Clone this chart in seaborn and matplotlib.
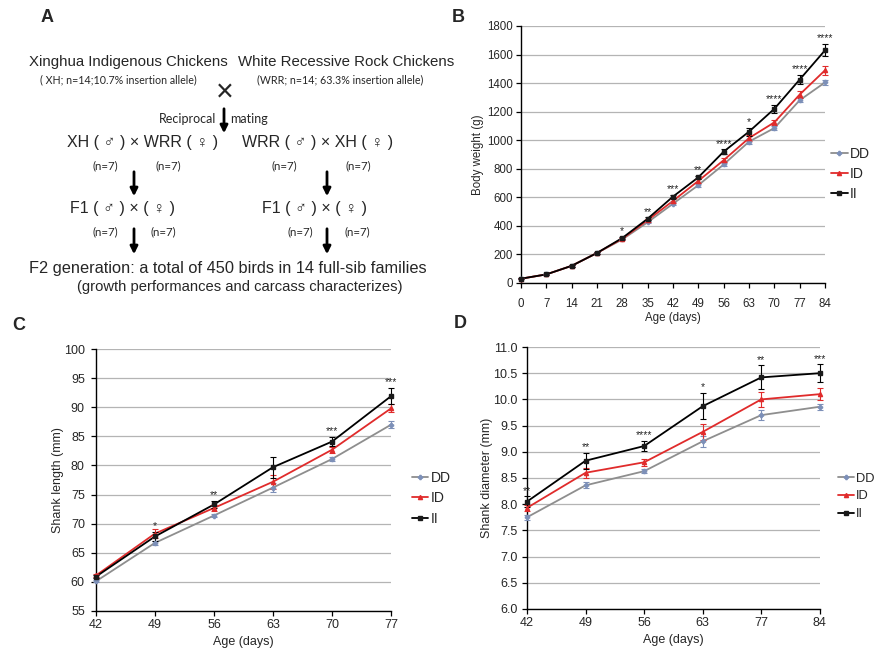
import numpy as np
import pandas as pd
import matplotlib
matplotlib.use("Agg")
import matplotlib.pyplot as plt
from matplotlib.lines import Line2D
import seaborn as sns

# ---- data ----
genotypes = ["DD", "ID", "II"]

# B: body weight (g)
b_age = [0, 7, 14, 21, 28, 35, 42, 49, 56, 63, 70, 77, 84]
b_dd = [30, 60, 120, 210, 305, 425, 555, 685, 830, 990, 1085, 1280, 1405]
b_id = [30, 60, 120, 210, 310, 440, 575, 715, 860, 1015, 1125, 1320, 1490]
b_ii = [30, 60, 120, 210, 315, 450, 605, 740, 920, 1060, 1220, 1425, 1630]
b_dd_err = [3, 4, 5, 6, 6, 8, 10, 10, 10, 15, 15, 15, 15]
b_id_err = [3, 4, 5, 6, 8, 10, 12, 12, 15, 20, 20, 25, 30]
b_ii_err = [3, 4, 5, 6, 8, 10, 12, 12, 15, 28, 28, 30, 42]
b_stars = ["", "", "", "", "*", "**", "***", "**", "****", "*", "****", "****", "****"]

# C: shank length (mm)
c_age = [42, 49, 56, 63, 70, 77]
c_dd = [60.1, 66.7, 71.4, 76.2, 81.1, 87.0]
c_id = [61.1, 68.3, 72.7, 77.2, 82.7, 89.8]
c_ii = [60.9, 67.8, 73.3, 79.7, 84.1, 91.9]
c_dd_err = [0.2, 0.4, 0.3, 0.8, 0.3, 0.6]
c_id_err = [0.3, 0.7, 0.5, 1.2, 0.5, 0.7]
c_ii_err = [0.3, 0.8, 0.6, 1.8, 0.8, 1.4]
c_stars = ["", "*", "**", "", "***", "***"]

# D: shank diameter (mm), ages shown as categories
d_age = ["42", "49", "56", "63", "77", "84"]
d_dd = [7.75, 8.36, 8.63, 9.20, 9.70, 9.86]
d_id = [7.93, 8.60, 8.80, 9.38, 10.00, 10.10]
d_ii = [8.05, 8.83, 9.11, 9.87, 10.42, 10.50]
d_dd_err = [0.05, 0.06, 0.04, 0.10, 0.10, 0.06]
d_id_err = [0.06, 0.10, 0.07, 0.15, 0.15, 0.12]
d_ii_err = [0.10, 0.15, 0.10, 0.25, 0.23, 0.17]
d_stars = ["**", "**", "****", "*", "**", "***"]

sns.set_style("white")
plt.rcParams["font.family"] = ["Liberation Sans", "DejaVu Sans"]

line_col = {"DD": "#8e8e8e", "ID": "#e02b2b", "II": "#000000"}
mark_col = {"DD": "#7d90b8", "ID": "#e02b2b", "II": "#1a1a1a"}
mark = {"DD": "P", "ID": "^", "II": "s"}


def panel(ax, x, series, errs, stars, xlabels, ylim, yticks, yfmt,
          ylabel, fs, lfs, leg_anchor, xpad, ypad, xlpad, ylpad):
    rows = []
    for g, vals in zip(genotypes, series):
        for xi, v in zip(x, vals):
            rows.append({"age": xi, "value": v, "genotype": g})
    df = pd.DataFrame(rows)
    sns.lineplot(data=df, x="age", y="value", hue="genotype", palette=line_col,
                 hue_order=genotypes, linewidth=1.3, legend=False, ax=ax,
                 zorder=3)
    for g, vals, e in zip(genotypes, series, errs):
        ax.errorbar(x, vals, yerr=e, fmt=mark[g], color=line_col[g],
                    mfc=mark_col[g], mec=mark_col[g], ms=3,
                    ecolor=mark_col[g] if g == "DD" else line_col[g],
                    elinewidth=0.8, capsize=2.2, capthick=0.8, zorder=4, clip_on=False)
    for xi, v, e, s in zip(x, series[2], errs[2], stars):
        if s:
            ax.annotate(s, (xi, v + e), xytext=(0, 0.5), textcoords="offset points",
                        ha="center", va="bottom", fontsize=7.5, annotation_clip=False)
    ax.set_xlim(x[0], x[-1])
    ax.set_ylim(*ylim)
    ax.set_xticks(x)
    ax.set_xticklabels(xlabels)
    ax.set_yticks(yticks)
    ax.set_yticklabels([yfmt.format(t) for t in yticks])
    for t in yticks:
        ax.axhline(t, color="#b4b4b4", lw=0.9, zorder=1)
    ax.set_xlabel("Age (days)", fontsize=fs, labelpad=xlpad)
    ax.set_ylabel(ylabel, fontsize=fs, labelpad=ylpad)
    ax.tick_params(axis="both", labelsize=fs, direction="out", length=3.5, width=0.9,
                   color="black")
    ax.tick_params(axis="x", pad=xpad, bottom=True)
    ax.tick_params(axis="y", pad=ypad, left=True)
    for sp in ["top", "right"]:
        ax.spines[sp].set_visible(False)
    for sp in ["left", "bottom"]:
        ax.spines[sp].set_color("black")
        ax.spines[sp].set_linewidth(1.0)
    handles = [Line2D([0], [0], color=line_col[g], lw=1.3, marker=mark[g], ms=3,
                      mfc=mark_col[g], mec=mark_col[g]) for g in genotypes]
    ax.legend(handles, genotypes, loc="center left", bbox_to_anchor=leg_anchor,
              frameon=False, fontsize=lfs, handlelength=1.2, handletextpad=0.15,
              labelspacing=0.45, borderaxespad=0, borderpad=0)


fig = plt.figure(figsize=(8.74, 6.48), dpi=100)

# ---- panel A: crossing scheme, drawn in pixel coordinates ----
axA = fig.add_axes([0, 0, 1, 1])
axA.set_xlim(0, 874)
axA.set_ylim(648, 0)
axA.axis("off")

big = dict(ha="center", va="center", fontsize=10.8)
small = dict(ha="center", va="center", fontsize=7.7, family=["Lato", "DejaVu Sans"])
nsmall = dict(ha="center", va="center", fontsize=8.3, family=["Lato", "DejaVu Sans"])
axA.text(128, 62, "Xinghua Indigenous Chickens", **big)
axA.text(346, 62, "White Recessive Rock Chickens", **big)
axA.text(118, 80, "( XH; n=14;10.7% insertion allele)", **small)
axA.text(340, 80, "(WRR; n=14; 63.3% insertion allele)", **small)
axA.text(225, 93, "\u00d7", ha="center", va="center", fontsize=22)
axA.text(216, 119, "Reciprocal", ha="right", va="center", fontsize=9,
         family=["Lato", "DejaVu Sans"])
axA.text(230, 119, "mating", ha="left", va="center", fontsize=9,
         family=["Lato", "DejaVu Sans"])
arrow = dict(arrowstyle="-|>", color="black", lw=2, mutation_scale=11)
axA.annotate("", xy=(224, 136), xytext=(224, 106), arrowprops=arrow)

cross = dict(ha="center", va="center", fontsize=11.5)
axA.text(143, 143, "XH ( \u2642 ) \u00d7 WRR ( \u2640 )", **cross)
axA.text(318, 143, "WRR ( \u2642 ) \u00d7 XH ( \u2640 )", **cross)
for xx in [105, 168, 284, 358]:
    axA.text(xx, 166, "(n=7)", **nsmall)
axA.annotate("", xy=(134, 199), xytext=(134, 169), arrowprops=arrow)
axA.annotate("", xy=(327, 199), xytext=(327, 169), arrowprops=arrow)
axA.text(122, 208, "F1 ( \u2642 ) \u00d7 ( \u2640 )", **cross)
axA.text(315, 208, "F1 ( \u2642 ) \u00d7 ( \u2640 )", **cross)
for xx in [105, 163, 300, 357]:
    axA.text(xx, 232, "(n=7)", **nsmall)
axA.annotate("", xy=(134, 257), xytext=(134, 226), arrowprops=arrow)
axA.annotate("", xy=(327, 257), xytext=(327, 226), arrowprops=arrow)
axA.text(228, 268, "F2 generation: a total of 450 birds in 14 full-sib families",
         ha="center", va="center", fontsize=11.8)
axA.text(240, 287, "(growth performances and carcass characterizes)",
         ha="center", va="center", fontsize=10.6)

for lab, xx, yy in [("A", 47, 18), ("B", 458, 18), ("C", 19, 325), ("D", 460, 324)]:
    axA.text(xx, yy, lab, ha="center", va="center", fontsize=13, fontweight="bold")

# ---- panel B ----
axB = fig.add_axes([0.596, 0.5633, 0.348, 0.3966])
panel(axB, b_age, [b_dd, b_id, b_ii], [b_dd_err, b_id_err, b_ii_err], b_stars,
      [str(a) for a in b_age], (0, 1800), list(range(0, 1801, 200)), "{:d}",
      "Body weight (g)", 8.3, 10, (1.02, 0.425), 7, 2, 2, 2.5)

# ---- panel C ----
axC = fig.add_axes([0.1098, 0.0571, 0.3376, 0.4043])
panel(axC, c_age, [c_dd, c_id, c_ii], [c_dd_err, c_id_err, c_ii_err], c_stars,
      [str(a) for a in c_age], (55, 100), list(range(55, 101, 5)), "{:d}",
      "Shank length (mm)", 9, 10, (1.07, 0.43), 2, 4.5, 4, 0)

# ---- panel D ----
d_pos = list(range(len(d_age)))
axD = fig.add_axes([0.603, 0.0602, 0.335, 0.4043])
panel(axD, d_pos, [d_dd, d_id, d_ii], [d_dd_err, d_id_err, d_ii_err], d_stars,
      d_age, (6.0, 11.0), [6.0 + 0.5 * i for i in range(11)], "{:.1f}",
      "Shank diameter (mm)", 9, 9.3, (1.063, 0.43), 2, 3.5, 4, 0)

fig.savefig("out.png", dpi=100)
